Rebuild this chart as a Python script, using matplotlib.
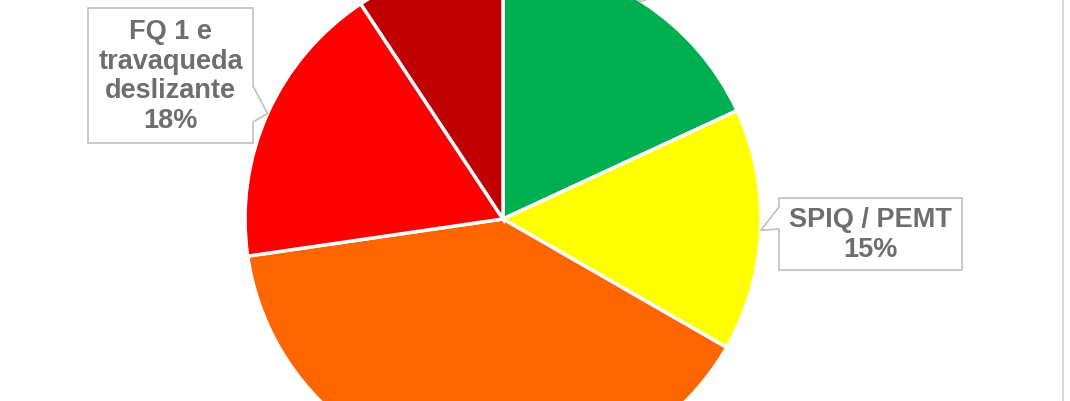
import numpy as np
import matplotlib
matplotlib.use("Agg")
import matplotlib.pyplot as plt
from matplotlib.patches import Polygon
from matplotlib.lines import Line2D

# ---- data ----
categories = ["(green)", "SPIQ / PEMT", "(orange)", "FQ 1 e\ntravaqueda\ndeslizante", "(dark red)"]
values = [18.1, 15.2, 39.4, 18.0, 9.3]
shown_labels = ["", "SPIQ / PEMT\n15%", "", "FQ 1 e\ntravaqueda\ndeslizante\n18%", ""]
colors = ["#00B050", "#FFFF00", "#FF6600", "#FF0000", "#C00000"]

W, H = 1070, 402
DPI = 100
fig = plt.figure(figsize=(W / DPI, H / DPI), dpi=DPI)
fig.patch.set_facecolor("white")

# pie geometry (pixels, y measured from top)
cx, cy, R = 503, 220, 258
ax = fig.add_axes([0, 0, 1, 1])
wedges, _ = ax.pie(values, colors=colors, startangle=90, counterclock=False,
                   radius=1.0, wedgeprops=dict(edgecolor="white", linewidth=2.5))
ax.set_xlim(-cx / R, (W - cx) / R)
ax.set_ylim(-(H - cy) / R, cy / R)
ax.set_aspect("auto")
ax.axis("off")


def px(x, y):
    return (x / W, 1 - y / H)


def tip_for(w):
    ang = np.deg2rad((w.theta1 + w.theta2) / 2)
    return cx + R * np.cos(ang), cy - R * np.sin(ang)


def callout(box, side, base, tip, text=None):
    x0, y0, x1, y1 = box
    b0, b1 = base
    if side == "right":
        pts = [(x0, y0), (x1, y0), (x1, b0), tip, (x1, b1), (x1, y1), (x0, y1)]
    elif side == "left":
        pts = [(x0, y0), (x1, y0), (x1, y1), (x0, y1), (x0, b1), tip, (x0, b0)]
    else:  # bottom
        pts = [(x0, y0), (x1, y0), (x1, y1), (b1, y1), tip, (b0, y1), (x0, y1)]
    poly = Polygon([px(*p) for p in pts], closed=True, transform=fig.transFigure,
                   facecolor="white", edgecolor="#BFBFBF", linewidth=1.2, zorder=5)
    fig.add_artist(poly)
    if text:
        fig.text((x0 + x1) / 2 / W, 1 - (y0 + y1) / 2 / H, text, ha="center", va="center",
                 family="Liberation Sans", fontweight="bold", fontsize=19.5,
                 color="#6E6E6E", linespacing=1.18, zorder=6)


# FQ label (red slice)
callout((88, 9, 253, 144), "right", (87, 123), tip_for(wedges[3]), shown_labels[3])
# SPIQ / PEMT label (yellow slice)
callout((779, 199, 962, 271), "left", (208, 230), tip_for(wedges[1]), shown_labels[1])
# green slice label (box above the visible area)
callout((600, -90, 760, -4), "bottom", (625, 655), tip_for(wedges[0]))

# right chart border
fig.add_artist(Line2D([1063 / W, 1063 / W], [0, 1], transform=fig.transFigure,
                      color="#D9D9D9", linewidth=1.5))

fig.savefig("out.png", dpi=DPI, facecolor="white")
